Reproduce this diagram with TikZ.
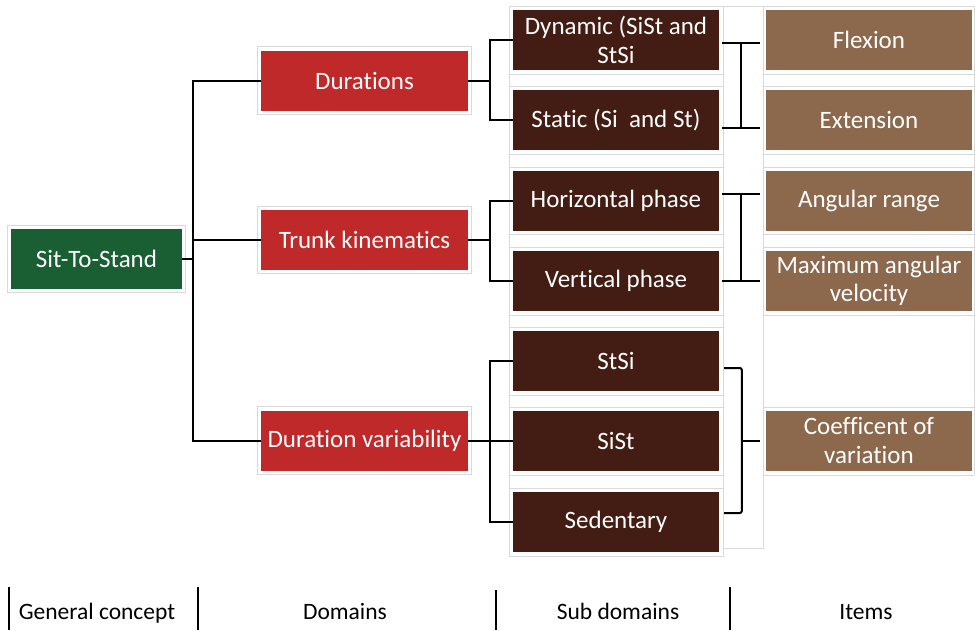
\documentclass[tikz,border=0pt]{standalone}
\usepackage{fontspec}
\setmainfont{Carlito}[Ligatures=NoCommon]
\usetikzlibrary{calc}
\definecolor{stsgreen}{HTML}{1A5E34}
\definecolor{domred}{HTML}{C0292A}
\definecolor{subbrown}{HTML}{431D13}
\definecolor{itembrown}{HTML}{8C684D}
\definecolor{framegray}{HTML}{D9D9D9}

\begin{document}
\begin{tikzpicture}[x=1pt,y=-1pt,
  basebox/.style={draw=none, inner sep=0pt, minimum height=60pt, align=center,
    text=white, font=\fontsize{25}{28.5}\selectfont},
  conceptbox/.style={basebox, fill=stsgreen, minimum width=171pt},
  dombox/.style={basebox, fill=domred, minimum width=207pt},
  subbox/.style={basebox, fill=subbrown, minimum width=206pt},
  itembox/.style={basebox, fill=itembrown, minimum width=206pt},
  conn/.style={draw=black, line width=2pt},
  frameline/.style={draw=framegray, line width=1pt},
  legendtext/.style={font=\fontsize{23.5}{27}\selectfont, text=black, anchor=base},
  divider/.style={draw=black, line width=2pt}]

\useasboundingbox (0,0) rectangle (975,630);

% general concept and domains
\node[conceptbox] (sts)   at (96.5,259)  {Sit-To-Stand};
\node[dombox]  (dur)   at (364.5,80.5) {Durations};
\node[dombox]  (trunk) at (364.5,240) {Trunk kinematics};
\node[dombox]  (dvar)  at (364.5,440.5) {Duration variability};

% sub domains
\node[subbox] (dyn)  at (616,40)    {Dynamic (SiSt and\\StSi};
\node[subbox] (stat) at (616,120)   {Static (Si\ \ and St)};
\node[subbox] (hor)  at (616,200.5) {Horizontal phase};
\node[subbox] (ver)  at (616,281)   {Vertical phase};
\node[subbox] (stsi) at (616,361)   {StSi};
\node[subbox] (sist) at (616,440.5) {SiSt};
\node[subbox] (sed)  at (616,521.5) {Sedentary};

% items
\node[itembox] (flex) at (869,40)    {Flexion};
\node[itembox] (ext)  at (869,120)   {Extension};
\node[itembox] (ang)  at (869,200.5) {Angular range};
\node[itembox] (maxv) at (869,281)   {Maximum angular\\velocity};
\node[itembox] (cov)  at (869,440.5) {Coefficent of\\variation};

% light frames round the boxes
\foreach \n in {sts,dur,trunk,dvar}
  \draw[frameline] ($(\n.north west)+(-3.5,-3.5)$) rectangle ($(\n.south east)+(3.5,3.5)$);
\draw[frameline] (509,6) rectangle (723,556);
\foreach \y in {74,86,154,167,234,247,315,327,395,407,475,488}
  \draw[frameline] (509,\y) -- (723,\y);
\draw[frameline] (723,6) -- (974,6) -- (974,475);
\draw[frameline] (763,6) -- (763,548) -- (723,548);
\foreach \y in {74,86,154,167,234,247,315,407,475}
  \draw[frameline] (763,\y) -- (974,\y);

% concept to domains
\coordinate (jA) at (193,259);
\draw[conn] (sts.east) -- (jA);
\draw[conn] (dur.west) -| (jA);
\draw[conn] (trunk.west) -| (jA);
\draw[conn] (dvar.west) -| (jA);

% domains to sub domains
\coordinate (jB) at (490,80.5);
\draw[conn] (dur.east) -- (jB);
\draw[conn] (dyn.west) -| (jB);
\draw[conn] (stat.west) -| (jB);

\coordinate (jC) at (490,240);
\draw[conn] (trunk.east) -- (jC);
\draw[conn] (hor.west) -| (jC);
\draw[conn] (ver.west) -| (jC);

\coordinate (jD) at (490,440.5);
\draw[conn] (dvar.east) -- (sist.west);
\draw[conn] (stsi.west) -| (jD);
\draw[conn] (sed.west) -| (jD);

% sub domains to items
\draw[conn] ($(dyn.east)+(3,3)$) -- ($(flex.west)+(-6,3)$);
\draw[conn] ($(stat.east)+(3,8)$) -- ($(ext.west)+(-6,8)$);
\draw[conn] ($(dyn.east)+(22,3)$) -- ($(stat.east)+(22,8)$);

\draw[conn] ($(hor.east)+(3,-6.5)$) -- ($(ang.west)+(-6,-6.5)$);
\draw[conn] ($(ver.east)+(3,0)$) -- ($(maxv.west)+(-6,0)$);
\draw[conn] ($(hor.east)+(22,-6.5)$) -- ($(ver.east)+(22,0)$);

\draw[conn, rounded corners=2pt] ($(stsi.east)+(5,7)$) -| ($(cov.west)+(-24,0)$)
  |- ($(sed.east)+(5,-8.5)$);
\draw[conn] ($(cov.west)+(-24,0)$) -- ($(cov.west)+(-6,0)$);

% column legend
\draw[divider] (9,587) -- (9,630);
\draw[divider] (198,587) -- (198,630);
\draw[divider] (496,590) -- (496,630);
\draw[divider] (730,587) -- (730,630);
\node[legendtext] (lgc)  at (97,619)  {General concept};
\node[legendtext] (ldom) at (345,619) {Domains};
\node[legendtext] (lsub) at (618,619) {Sub domains};
\node[legendtext] (litm) at (866,619) {Items};
\end{tikzpicture}
\end{document}
